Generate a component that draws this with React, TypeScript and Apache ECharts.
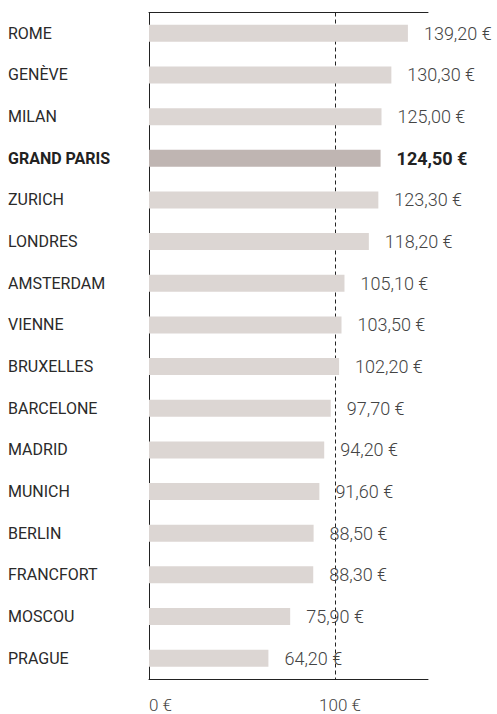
import React, { useEffect, useRef } from "react";
import * as echarts from "echarts";

const cities = [
  "ROME", "GENÈVE", "MILAN", "GRAND PARIS", "ZURICH", "LONDRES", "AMSTERDAM", "VIENNE",
  "BRUXELLES", "BARCELONE", "MADRID", "MUNICH", "BERLIN", "FRANCFORT", "MOSCOU", "PRAGUE",
];
const prices = [139.2, 130.3, 125.0, 124.5, 123.3, 118.2, 105.1, 103.5, 102.2, 97.7, 94.2, 91.6, 88.5, 88.3, 75.9, 64.2];
const highlight = "GRAND PARIS";
const xTicks = [0, 100];
const referenceValue = 100;

const fmt = (v: number) => v.toFixed(2).replace(".", ",") + " €";

export default function App() {
  const ref = useRef<HTMLDivElement>(null);
  useEffect(() => {
    if (!ref.current) return;
    const chart = echarts.init(ref.current, null, { renderer: "svg" });
    const font = "Roboto";
    chart.setOption({
      animation: false,
      grid: { left: 149, right: 69, top: 12.5, bottom: 35, containLabel: false, outerBoundsMode: "none" },
      xAxis: [
        {
          type: "value",
          min: 0,
          max: 150,
          interval: 100,
          axisLine: { show: true, lineStyle: { color: "#222", width: 1 } },
          axisTick: { show: false },
          splitLine: { show: false },
          axisLabel: {
            margin: 17,
            alignMinLabel: "left",
            fontFamily: font,
            fontSize: 17,
            fontWeight: 300,
            color: "#444",
            formatter: (v: number) => {
              if (!xTicks.includes(v)) return "";
              if (v === 0) return v + " €";
              return "{p|" + v + " €}";
            },
            rich: {
              p: { fontFamily: font, fontSize: 17, fontWeight: 300, color: "#444", padding: [0, 0, 0, 10] },
            },
          },
        },
        {
          type: "value",
          position: "top",
          min: 0,
          max: 150,
          axisLine: { show: true, lineStyle: { color: "#222", width: 1 } },
          axisTick: { show: false },
          axisLabel: { show: false },
          splitLine: { show: false },
        },
      ],
      yAxis: {
        type: "category",
        inverse: true,
        data: cities.map((c) => ({
          value: c,
          textStyle:
            c === highlight
              ? { align: "left", fontWeight: "bold", color: "#222", fontFamily: font, fontSize: 16 }
              : { align: "left", color: "#2a2a2a", fontFamily: font, fontSize: 16 },
        })),
        axisLine: { show: true, lineStyle: { color: "#222", width: 1 } },
        axisTick: { show: false },
        axisLabel: {
          align: "left",
          margin: 141,
          fontFamily: font,
          fontSize: 16,
          color: "#2a2a2a",
        },
      },
      series: [
        {
          type: "bar",
          xAxisIndex: 0,
          barWidth: 17,
          z: 2,
          data: prices.map((p, i) => {
            const hi = cities[i] === highlight;
            return {
              value: p,
              itemStyle: { color: hi ? "#bfb5b2" : "#dcd6d3" },
              label: hi ? { fontWeight: "bold", color: "#222" } : {},
            };
          }),
          label: {
            show: true,
            position: "right",
            distance: 16,
            fontFamily: font,
            fontSize: 18,
            fontWeight: 300,
            color: "#444",
            formatter: (p: any) => fmt(p.value),
          },
          markLine: {
            z: 1,
            silent: true,
            symbol: "none",
            label: { show: false },
            lineStyle: { color: "#222", width: 1, type: [4, 3] },
            data: [{ xAxis: referenceValue }],
          },
        },
      ],
    });
    return () => chart.dispose();
  }, []);
  return (
    <div
      ref={ref}
      style={{ position: "fixed", left: 0, top: 0, width: 497, height: 714, background: "#fff" }}
    />
  );
}
